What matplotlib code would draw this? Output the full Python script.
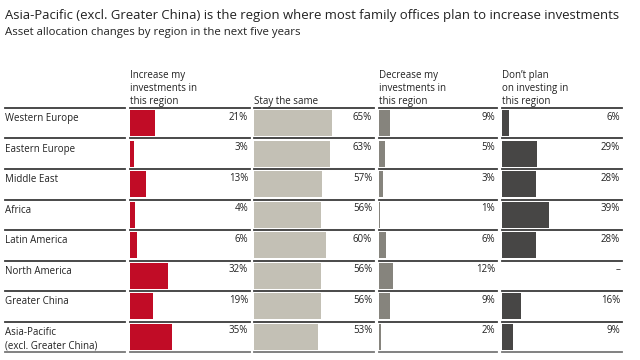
import matplotlib
matplotlib.use("Agg")
import matplotlib.pyplot as plt

plt.rcParams["font.family"] = ["Open Sans", "DejaVu Sans"]

regions = [
    "Western Europe",
    "Eastern Europe",
    "Middle East",
    "Africa",
    "Latin America",
    "North America",
    "Greater China",
    "Asia-Pacific\n(excl. Greater China)",
]
increase = [21, 3, 13, 4, 6, 32, 19, 35]
stay_same = [65, 63, 57, 56, 60, 56, 56, 53]
decrease = [9, 5, 3, 1, 6, 12, 9, 2]
no_plan = [6, 29, 28, 39, 28, None, 16, 9]

headers = [
    "Increase my\ninvestments in\nthis region",
    "Stay the same",
    "Decrease my\ninvestments in\nthis region",
    "Don’t plan\non investing in\nthis region",
]
series = [increase, stay_same, decrease, no_plan]
colors = ["#C10C26", "#C3C0B5", "#86847D", "#474645"]

W, H = 640, 360
fig = plt.figure(figsize=(6.4, 3.6), dpi=100)

fig.text(5 / W, 1 - 15 / H, "Asia-Pacific (excl. Greater China) is the region where most family offices plan to increase investments",
         fontsize=9.45, va="center", ha="left", color="#222222")
fig.text(5 / W, 1 - 32 / H, "Asset allocation changes by region in the next five years",
         fontsize=8.2, va="center", ha="left", color="#222222")

top, bottom = 108, 352
n = len(regions)


def make_ax(x0, x1):
    ax = fig.add_axes([x0 / W, 1 - bottom / H, (x1 - x0) / W, (bottom - top) / H])
    ax.set_xlim(0, 100)
    ax.set_ylim(n, 0)
    ax.axis("off")
    for i in range(n + 1):
        ax.axhline(i, color="#3a3a3a" if i < n else "#777777", lw=1.3, clip_on=False)
    return ax


# region label column
lab_ax = make_ax(5, 125)
for i, r in enumerate(regions):
    lab_ax.text(0, i + 0.18, r, fontsize=7.0, va="top", ha="left", color="#222222", linespacing=1.3)

col_x = [(130, 250), (254, 374), (379, 497), (502, 622)]
for (x0, x1), vals, col, head in zip(col_x, series, colors, headers):
    ax = make_ax(x0, x1)
    ys = [i + 0.5 for i in range(n)]
    ax.barh(ys, [v or 0 for v in vals], height=0.85, color=col)
    for y, v in zip(ys, vals):
        label = "–" if v is None else f"{v}%"
        ax.text(98.5, y - 0.2, label, fontsize=7.0, ha="right", va="center", color="#222222")
    ax.text(0, -0.04, head, fontsize=7.0, ha="left", va="bottom", color="#222222", linespacing=1.25)

fig.savefig("out.png", dpi=100)
